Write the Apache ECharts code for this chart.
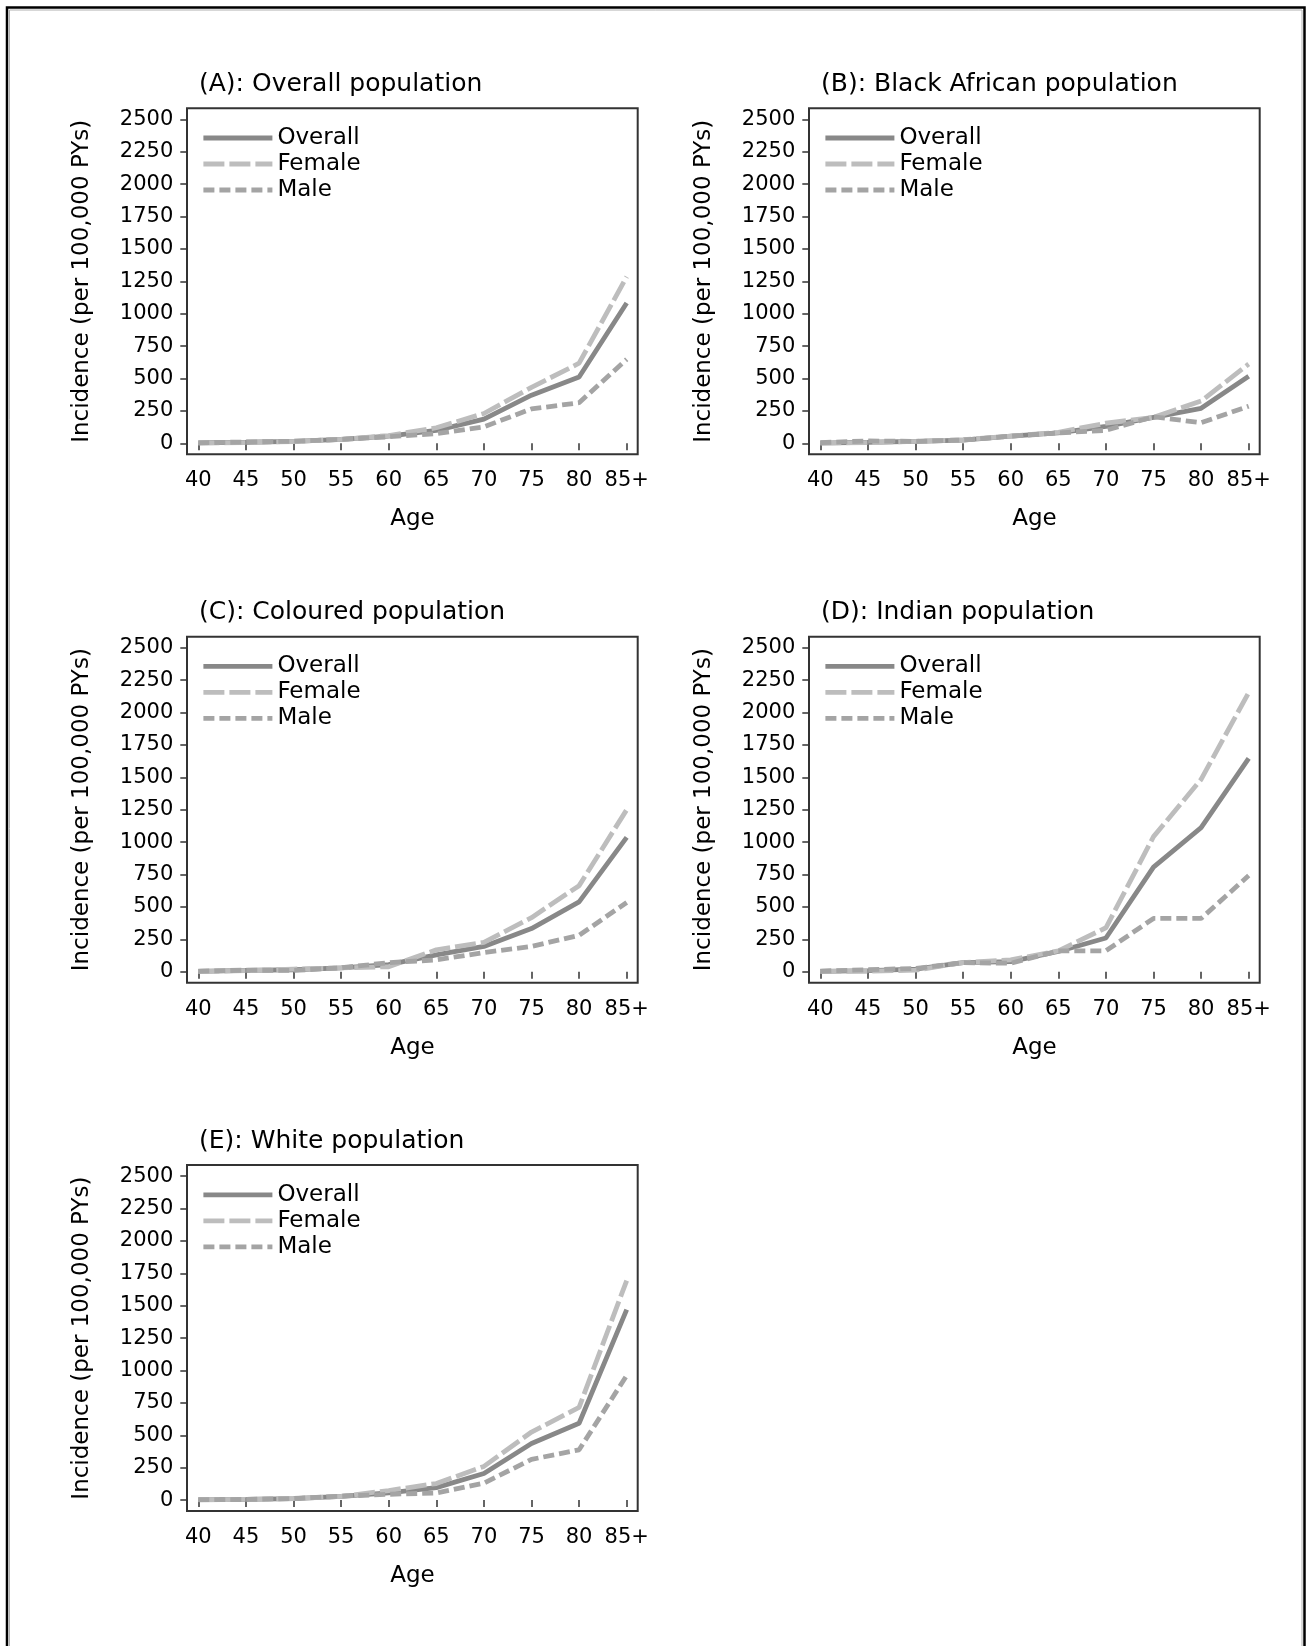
<!DOCTYPE html>
<html><head><meta charset="utf-8">
<script src="https://cdn.jsdelivr.net/npm/echarts@6/dist/echarts.min.js"></script>
<style>html,body{margin:0;padding:0;background:#fff}#c{width:1306px;height:1646px}</style>
</head><body><div id="c"></div>
<script>
// ---- data ----
const ages = ['40','45','50','55','60','65','70','75','80','85+'];
const panelTitles = ['(A): Overall population', '(B): Black African population', '(C): Coloured population', '(D): Indian population', '(E): White population'];
const seriesNames = ['Overall', 'Female', 'Male'];
const yMin = 0, yMax = 2500, yStep = 250;

const overallA = [3, 8, 15, 30, 55, 100, 186, 371, 512, 1082];
const femaleA  = [2, 6, 14, 30, 60, 120, 230, 432, 618, 1285];
const maleA    = [4, 10, 16, 30, 50, 75, 127, 265, 313, 648];

const overallB = [2, 8, 15, 25, 55, 80, 130, 200, 270, 517];
const femaleB  = [2, 5, 15, 28, 55, 85, 155, 200, 326, 612];
const maleB    = [5, 18, 15, 25, 55, 80, 100, 205, 159, 286];

const overallC = [3, 10, 15, 30, 55, 130, 195, 333, 539, 1036];
const femaleC  = [2, 8, 20, 30, 38, 169, 227, 417, 664, 1250];
const maleC    = [4, 12, 10, 30, 70, 91, 148, 195, 281, 534];

const overallD = [3, 8, 20, 70, 78, 156, 260, 807, 1112, 1646];
const femaleD  = [2, 3, 12, 70, 91, 161, 339, 1042, 1484, 2154];
const maleD    = [5, 15, 25, 70, 65, 161, 161, 411, 411, 742];

const overallE = [2, 5, 12, 28, 55, 96, 205, 437, 593, 1470];
const femaleE  = [2, 5, 12, 28, 74, 128, 260, 525, 716, 1694];
const maleE    = [3, 5, 12, 30, 45, 55, 131, 314, 388, 962];

const panels = [
  [overallA, femaleA, maleA],
  [overallB, femaleB, maleB],
  [overallC, femaleC, maleC],
  [overallD, femaleD, maleD],
  [overallE, femaleE, maleE]
];

// ---- styles / layout ----
const FONT = 'DejaVu Sans';
const GX0 = 198.3, GY0 = 119.3, GW = 428.4, GH = 324, DX = 622, DY = 528.4, PAD = 11;
const LW = 4.8;
const lineStyles = [
  {color: '#888888', type: 'solid'},
  {color: '#bdbdbd', type: [21, 5]},
  {color: '#a4a4a4', type: [11, 5]}
];

const grids = [], xAxes = [], yAxes = [], series = [], legends = [], titles = [];
const graphics = [
  {type: 'rect', shape: {x: 7, y: 7.5, width: 1297.5, height: 1700}, style: {fill: 'none', stroke: '#000', lineWidth: 2.5}, silent: true},
  {type: 'rect', shape: {x: 9.5, y: 10, width: 1292.5, height: 1700}, style: {fill: 'none', stroke: '#b0b0b0', lineWidth: 1}, silent: true}
];

panels.forEach((p, i) => {
  const col = i % 2, row = Math.floor(i / 2);
  const gl = GX0 + DX * col, gt = GY0 + DY * row;
  grids.push({left: gl, top: gt, width: GW, height: GH, outerBoundsMode: 'none', containLabel: false});
  xAxes.push({
    type: 'category', gridIndex: i, data: ages, boundaryGap: false, offset: PAD,
    axisLine: {show: false},
    axisTick: {show: true, interval: 0, length: 7, lineStyle: {color: '#333', width: 1.5}},
    axisLabel: {interval: 0, fontSize: 21, lineHeight: 21, margin: 16, color: '#000', fontFamily: FONT},
    splitLine: {show: false},
    name: 'Age', nameLocation: 'middle', nameGap: 53.5,
    nameTextStyle: {fontSize: 23, lineHeight: 23, color: '#000', fontFamily: FONT, fontWeight: 'normal'}
  });
  yAxes.push({
    type: 'value', gridIndex: i, min: yMin, max: yMax, interval: yStep, offset: PAD,
    axisLine: {show: false},
    axisTick: {show: true, length: 7, lineStyle: {color: '#333', width: 1.5}},
    axisLabel: {fontSize: 21, lineHeight: 17, padding: [8, 0, 0, 0], margin: 14, color: '#000', fontFamily: FONT,
      formatter: v => String(v)},
    splitLine: {show: false},
    name: 'Incidence (per 100,000 PYs)', nameLocation: 'middle', nameGap: 94,
    nameTextStyle: {fontSize: 23, lineHeight: 23, color: '#000', fontFamily: FONT, fontWeight: 'normal'}
  });
  p.forEach((vals, k) => {
    series.push({
      type: 'line', name: seriesNames[k], xAxisIndex: i, yAxisIndex: i, data: vals,
      symbol: 'none', showSymbol: false, silent: true,
      lineStyle: {width: LW, color: lineStyles[k].color, type: lineStyles[k].type, cap: 'butt'},
      itemStyle: {color: lineStyles[k].color}
    });
  });
  legends.push({
    orient: 'vertical', left: gl + 2.7, top: gt + 5.7, padding: 0,
    itemWidth: 69, itemHeight: 26, itemGap: 0, selectedMode: false,
    data: seriesNames,
    itemStyle: {opacity: 0, borderWidth: 0},
    lineStyle: {width: LW},
    textStyle: {fontSize: 23, lineHeight: 18, padding: [8, 0, 0, 0], color: '#000', fontFamily: FONT}
  });
  titles.push({
    text: panelTitles[i], left: gl + 0.7, top: gt - 47.5, padding: 0,
    textStyle: {fontSize: 25, lineHeight: 25, fontWeight: 'normal', color: '#000', fontFamily: FONT}
  });
  graphics.push({
    type: 'rect', silent: true,
    shape: {x: gl - PAD - 0.3, y: gt - PAD, width: GW + 2 * PAD + 0.3, height: GH + 2 * PAD},
    style: {fill: 'none', stroke: '#333', lineWidth: 2}
  });
});

const chart = echarts.init(document.getElementById('c'), null, {renderer: 'canvas'});
chart.setOption({
  animation: false,
  backgroundColor: '#fff',
  title: titles,
  legend: legends,
  grid: grids,
  xAxis: xAxes,
  yAxis: yAxes,
  series: series,
  graphic: graphics
});
</script>
</body></html>
